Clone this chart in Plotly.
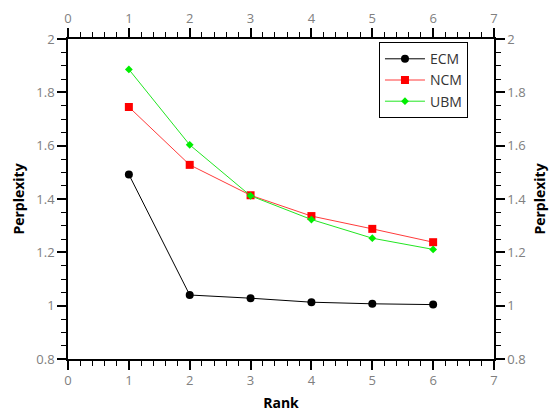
import plotly.graph_objects as go

rank = [1, 2, 3, 4, 5, 6]
ecm = [1.492, 1.040, 1.028, 1.013, 1.007, 1.004]
ncm = [1.745, 1.528, 1.414, 1.336, 1.288, 1.238]
ubm = [1.886, 1.603, 1.412, 1.323, 1.253, 1.211]

fig = go.Figure()
fig.add_trace(go.Scatter(x=rank, y=ecm, name="ECM", mode="lines+markers",
                         line=dict(color="black", width=1),
                         marker=dict(symbol="circle", size=8, color="black")))
fig.add_trace(go.Scatter(x=rank, y=ncm, name="NCM", mode="lines+markers",
                         line=dict(color="#ff3b3b", width=1),
                         marker=dict(symbol="square", size=8, color="#ff0000")))
fig.add_trace(go.Scatter(x=rank, y=ubm, name="UBM", mode="lines+markers",
                         line=dict(color="#22e622", width=1),
                         marker=dict(symbol="diamond", size=6, color="#00ee00")))
# invisible trace to anchor the mirrored axes
fig.add_trace(go.Scatter(x=rank, y=ecm, xaxis="x2", yaxis="y2", mode="markers",
                         marker=dict(opacity=0), showlegend=False, hoverinfo="skip"))

tickfont = dict(family="Open Sans, DejaVu Sans, sans-serif", size=13, color="#808080")
titlefont = dict(family="Open Sans, DejaVu Sans, sans-serif", size=14, color="black", weight="bold")

common_x = dict(range=[0, 7], dtick=1, tick0=0, showgrid=False, zeroline=False,
                showline=True, linecolor="black", linewidth=1.5, automargin=False,
                ticks="outside", ticklen=9, tickwidth=1.5, tickcolor="black",
                minor=dict(dtick=0.2, ticks="outside", ticklen=5, tickcolor="black", tickwidth=1),
                tickfont=tickfont)
common_y = dict(range=[0.8, 2], dtick=0.2, tick0=0.8, showgrid=False, zeroline=False,
                showline=True, linecolor="black", linewidth=1.5, automargin=False,
                ticks="outside", ticklen=9, tickwidth=1.5, tickcolor="black",
                minor=dict(dtick=0.05, ticks="outside", ticklen=5, tickcolor="black", tickwidth=1),
                tickfont=tickfont, tickformat="~r")

fig.update_layout(
    width=555, height=414,
    margin=dict(l=68, r=61, t=39, b=55),
    plot_bgcolor="white", paper_bgcolor="white",
    xaxis=dict(**common_x, title=dict(text="Rank", font=titlefont, standoff=10)),
    xaxis2=dict(**common_x, overlaying="x", side="top", anchor="y"),
    yaxis=dict(**common_y, title=dict(text="Perplexity", font=titlefont, standoff=8)),
    yaxis2=dict(**common_y, overlaying="y", side="right", anchor="x",
                title=dict(text="Perplexity", font=titlefont, standoff=10)),
    legend=dict(x=0.73, y=0.99, xanchor="left", yanchor="top",
                bgcolor="white", bordercolor="black", borderwidth=1,
                font=dict(family="Open Sans, DejaVu Sans, sans-serif", size=14, color="#333333"),
                tracegroupgap=0, itemwidth=40),
    showlegend=True,
)

fig.write_html("out.html", config={"displayModeBar": False},
               post_script="document.body.style.margin='0px';document.body.style.overflow='hidden';")
